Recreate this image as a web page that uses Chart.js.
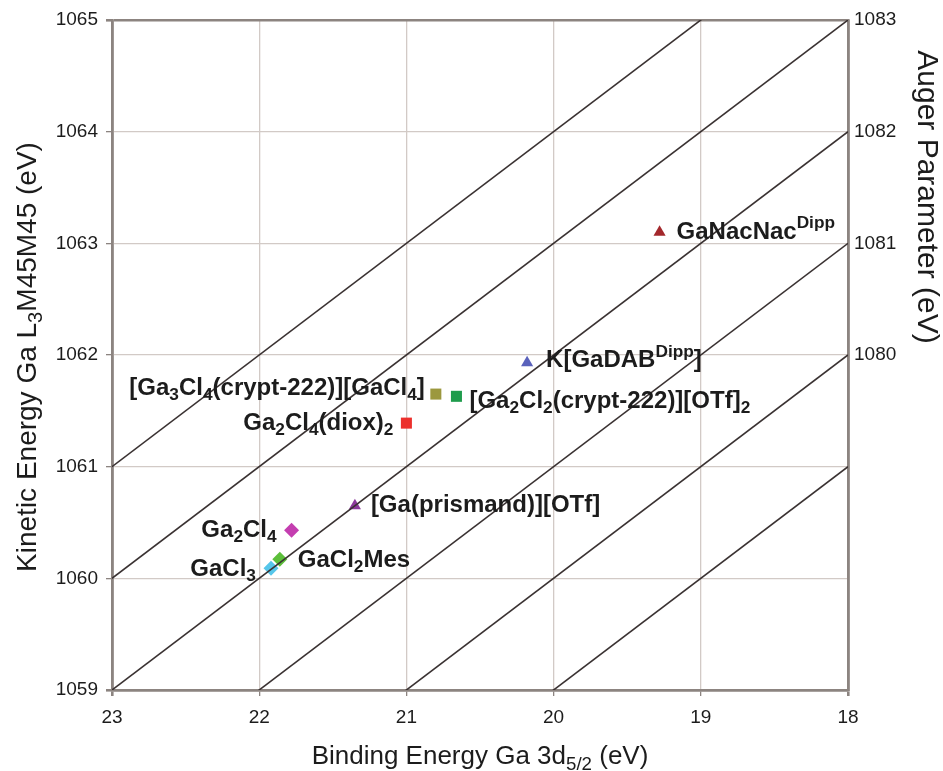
<!DOCTYPE html>
<html lang="en">
<head>
    <meta charset="UTF-8">
    <title>Wagner plot - Ga compounds</title>
    <script src="https://cdn.jsdelivr.net/npm/chart.js"></script>
    <style>
        body {
            margin: 0;
            background: #ffffff;
        }

        #wrap {
            width: 943px;
            height: 771px;
        }
    </style>
</head>
<body>
    <div id="wrap">
        <canvas id="wagner" width="943" height="771"></canvas>
    </div>

    <script>
        // binding energy (Ga 3d5/2) and kinetic energy (Ga L3M45M45) per compound, eV
        const bindingEnergy = [19.28, 20.18, 20.80, 20.66, 21.00, 21.35, 21.78, 21.86, 21.92];
        const kineticEnergy = [1063.10, 1061.93, 1061.65, 1061.63, 1061.39, 1060.65, 1060.43, 1060.17, 1060.09];

        // compound names as text runs: [text] or [text, 'sub' | 'sup']
        const compoundNames = [
            [['GaNacNac'], ['Dipp', 'sup']],
            [['K[GaDAB'], ['Dipp', 'sup'], [']']],
            [['[Ga'], ['3', 'sub'], ['Cl'], ['4', 'sub'], ['(crypt-222)][GaCl'], ['4', 'sub'], [']']],
            [['[Ga'], ['2', 'sub'], ['Cl'], ['2', 'sub'], ['(crypt-222)][OTf]'], ['2', 'sub']],
            [['Ga'], ['2', 'sub'], ['Cl'], ['4', 'sub'], ['(diox)'], ['2', 'sub']],
            [['[Ga(prismand)][OTf]']],
            [['Ga'], ['2', 'sub'], ['Cl'], ['4', 'sub']],
            [['GaCl'], ['2', 'sub'], ['Mes']],
            [['GaCl'], ['3', 'sub']]
        ];

        // lines of constant Auger parameter (BE + KE), eV
        const augerLines = [1079, 1080, 1081, 1082, 1083, 1084];
        const augerTicks = [1080, 1081, 1082, 1083];

        const bindingRange = [18, 23];
        const kineticRange = [1059, 1065];

        const xTitleRuns = [['Binding Energy Ga 3d'], ['5/2', 'sub'], [' (eV)']];
        const yTitleRuns = [['Kinetic Energy Ga L'], ['3', 'sub'], ['M45M45 (eV)']];
        const y2TitleRuns = [['Auger Parameter (eV)']];

        // marker look for each compound
        const markerStyles = [
            { shape: 'triangle', color: '#a3282c', r: 7 },
            { shape: 'triangle', color: '#5a62bc', r: 7 },
            { shape: 'rect', color: '#9c983e', r: 7.8 },
            { shape: 'rect', color: '#1f9c4c', r: 7.8 },
            { shape: 'rect', color: '#ec302c', r: 7.8 },
            { shape: 'triangle', color: '#8c3a9c', r: 7 },
            { shape: 'rectRot', color: '#c43eb0', r: 7.5 },
            { shape: 'rectRot', color: '#5cbf3a', r: 7.5 },
            { shape: 'rectRot', color: '#56c6ea', r: 7.5 }
        ];

        // where each name sits relative to its marker
        const labelPlacement = [
            { dx: 17, dy: 0, align: 'left' },
            { dx: 19, dy: -2, align: 'left' },
            { dx: -11, dy: -6, align: 'right' },
            { dx: 13, dy: 5, align: 'left' },
            { dx: -13, dy: 0, align: 'right' },
            { dx: 16, dy: 0, align: 'left' },
            { dx: -15, dy: 0, align: 'right' },
            { dx: 18, dy: 1, align: 'left' },
            { dx: -15, dy: 1, align: 'right' }
        ];

        const FONT = '"Liberation Sans", Arial, sans-serif';
        const TEXT = '#1c1c1c';
        const FRAME = '#8c8480';
        const GRID = '#d2cac6';

        function runFont(size, bold, kind) {
            const s = kind ? size * 0.72 : size;
            return (bold ? 'bold ' : '') + s + 'px ' + FONT;
        }

        // draws a list of text runs with sub/superscripts, vertically centred on y
        function drawRuns(ctx, runs, x, y, size, bold, align) {
            let total = 0;
            const widths = runs.map(r => {
                ctx.font = runFont(size, bold, r[1]);
                const w = ctx.measureText(r[0]).width;
                total += w;
                return w;
            });
            let cx = align === 'right' ? x - total : align === 'center' ? x - total / 2 : x;
            ctx.textAlign = 'left';
            ctx.textBaseline = 'middle';
            runs.forEach((r, i) => {
                ctx.font = runFont(size, bold, r[1]);
                let off = 0;
                if (r[1] === 'sub') off = size * 0.3;
                if (r[1] === 'sup') off = -size * 0.36;
                ctx.fillText(r[0], cx, y + off);
                cx += widths[i];
            });
        }

        const textPlugin = {
            id: 'wagnerText',
            afterDatasetsDraw(chart) {
                const ctx = chart.ctx;
                const area = chart.chartArea;
                ctx.save();
                ctx.fillStyle = TEXT;

                // compound names next to their markers
                compoundNames.forEach((runs, i) => {
                    const pt = chart.getDatasetMeta(augerLines.length + i).data[0];
                    const p = labelPlacement[i];
                    drawRuns(ctx, runs, pt.x + p.dx, pt.y + p.dy, 24, true, p.align);
                });

                // axis titles
                drawRuns(ctx, xTitleRuns, (area.left + area.right) / 2, 757, 26, false, 'center');

                ctx.save();
                ctx.translate(28, (area.top + area.bottom) / 2 + 2);
                ctx.rotate(-Math.PI / 2);
                drawRuns(ctx, yTitleRuns, 0, 0, 28, false, 'center');
                ctx.restore();

                ctx.save();
                ctx.translate(926, 197);
                ctx.rotate(Math.PI / 2);
                drawRuns(ctx, y2TitleRuns, 0, 0, 30, false, 'center');
                ctx.restore();

                ctx.restore();
            }
        };

        const lineSets = augerLines.map(ap => ({
            type: 'line',
            data: bindingRange.map(be => ({ x: be, y: ap - be })),
            borderColor: '#3a3232',
            borderWidth: 1.6,
            pointRadius: 0,
            order: 0
        }));

        const pointSets = bindingEnergy.map((be, i) => ({
            type: 'scatter',
            data: [{ x: be, y: kineticEnergy[i] }],
            pointStyle: markerStyles[i].shape,
            pointRadius: markerStyles[i].r,
            backgroundColor: markerStyles[i].color,
            borderColor: markerStyles[i].color,
            borderWidth: 0,
            order: 1
        }));

        const edgeColor = (lo, hi) => (c) => (c.tick && (c.tick.value === lo || c.tick.value === hi)) ? FRAME : GRID;
        const edgeWidth = (lo, hi) => (c) => (c.tick && (c.tick.value === lo || c.tick.value === hi)) ? 2.6 : 1.3;

        new Chart(document.getElementById('wagner'), {
            type: 'scatter',
            data: { datasets: lineSets.concat(pointSets) },
            options: {
                responsive: false,
                animation: false,
                layout: { padding: { top: 20, right: 0, bottom: 0, left: 0 } },
                plugins: {
                    legend: { display: false },
                    tooltip: { enabled: false }
                },
                scales: {
                    x: {
                        type: 'linear',
                        reverse: true,
                        min: bindingRange[0],
                        max: bindingRange[1],
                        ticks: { stepSize: 1, padding: 10, color: TEXT, font: { family: FONT, size: 19 } },
                        grid: {
                            color: edgeColor(bindingRange[0], bindingRange[1]),
                            lineWidth: edgeWidth(bindingRange[0], bindingRange[1]),
                            tickColor: FRAME,
                            tickLength: 6
                        },
                        border: { color: FRAME, width: 2.6 },
                        afterFit(s) { s.height = 81; }
                    },
                    y: {
                        min: kineticRange[0],
                        max: kineticRange[1],
                        ticks: {
                            stepSize: 1,
                            padding: 8,
                            color: TEXT,
                            font: { family: FONT, size: 19 },
                            callback: (v) => String(v)
                        },
                        grid: {
                            color: edgeColor(kineticRange[0], kineticRange[1]),
                            lineWidth: edgeWidth(kineticRange[0], kineticRange[1]),
                            tickColor: FRAME,
                            tickLength: 6
                        },
                        border: { color: FRAME, width: 2.6 },
                        afterFit(s) { s.width = 112; }
                    },
                    y2: {
                        position: 'right',
                        min: kineticRange[0],
                        max: kineticRange[1],
                        afterBuildTicks(s) {
                            // an Auger parameter meets the right edge at KE = AP - BE(right)
                            s.ticks = augerTicks.map(ap => ({ value: ap - bindingRange[0] }));
                        },
                        ticks: {
                            padding: 6,
                            color: TEXT,
                            font: { family: FONT, size: 19 },
                            callback: (v) => String(v + bindingRange[0])
                        },
                        grid: { drawOnChartArea: false, drawTicks: false },
                        border: { color: FRAME, width: 2.6 },
                        afterFit(s) { s.width = 95; }
                    }
                }
            },
            plugins: [textPlugin]
        });
    </script>
</body>
</html>
